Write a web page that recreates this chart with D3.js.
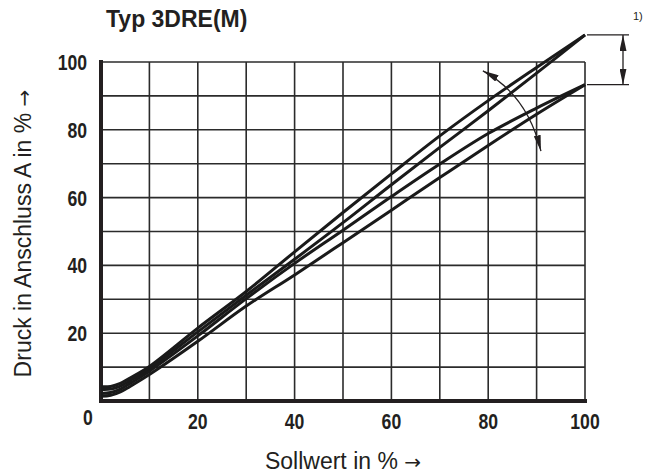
<!DOCTYPE html>
<html>
<head>
<meta charset="utf-8">
<script src="https://cdn.jsdelivr.net/npm/d3@7"></script>
<style>
  body { margin: 0; background: #fff; }
  text { font-family: "Liberation Sans", Arial, sans-serif; fill: #231f20; }
  .tick-label { font-weight: bold; font-size: 22px; }
  .arrow { font-family: "DejaVu Sans", sans-serif; }
</style>
</head>
<body>
<div id="chart"></div>
<script>
// Sollwert (x) in %, Druck in Anschluss A (y) in %
const sollwert = [0, 2, 4, 6, 10, 20, 30, 40, 50, 60, 70, 80, 90, 100];
// upper pair (ends at 108 %)
const druckA = [4.2, 4.3, 5.2, 6.8, 10.2, 21.5, 32.3, 44.0, 55.6, 67.0, 78.2, 88.6, 98.4, 108];
const druckB = [3.4, 3.5, 4.4, 6.0, 9.5, 20.4, 31.2, 41.8, 52.6, 63.8, 74.8, 85.6, 96.7, 108];
// lower pair (ends at 93 %)
const druckC = [2.2, 2.5, 3.5, 5.2, 8.8, 19.2, 30.2, 40.6, 50.4, 60.3, 69.9, 78.9, 86.4, 93.3];
const druckD = [1.4, 1.7, 2.7, 4.3, 7.8, 17.6, 28.0, 37.2, 46.7, 56.3, 65.9, 75.4, 84.6, 93.3];

const xTicks = [20, 40, 60, 80, 100];
const yTicks = [20, 40, 60, 80, 100];
const gridSteps = d3.range(0, 101, 10);

// annotations (data units)
const bracketLevels = [108, 93.3];   // 1) range at 100 % Sollwert
const curvedArrow = [[78.9, 97.4], [88.1, 90.3], [90.9, 73.7]]; // start, control, end

const width = 646, height = 474;
const margin = {top: 62, right: 61, bottom: 73, left: 101};

const x = d3.scaleLinear().domain([0, 100]).range([margin.left, width - margin.right]);
const y = d3.scaleLinear().domain([0, 100]).range([height - margin.bottom, margin.top]);

const svg = d3.select("#chart").append("svg")
  .attr("width", width)
  .attr("height", height);

const defs = svg.append("defs");
defs.append("marker")
  .attr("id", "head")
  .attr("viewBox", "0 0 16 7")
  .attr("refX", 16).attr("refY", 3.5)
  .attr("markerWidth", 16).attr("markerHeight", 7)
  .attr("markerUnits", "userSpaceOnUse")
  .attr("orient", "auto-start-reverse")
  .append("path")
  .attr("d", "M0,0L16,3.5L0,7Z")
  .attr("fill", "#231f20");

// grid
const grid = svg.append("g").attr("stroke", "#2b2b2b").attr("stroke-width", 1.6);
grid.selectAll(".v").data(gridSteps).join("line")
  .attr("x1", d => x(d)).attr("x2", d => x(d))
  .attr("y1", y(0)).attr("y2", y(100));
grid.selectAll(".h").data(gridSteps).join("line")
  .attr("y1", d => y(d)).attr("y2", d => y(d))
  .attr("x1", x(0)).attr("x2", x(100));

// heavy left and bottom axes
svg.append("path")
  .attr("d", `M${x(0)},${y(100)}V${y(0)}H${x(100)}`)
  .attr("fill", "none")
  .attr("stroke", "#231f20")
  .attr("stroke-width", 4)
  .attr("stroke-linecap", "square");

// curves
const line = d3.line()
  .x((d, i) => x(sollwert[i]))
  .y(d => y(d))
  .curve(d3.curveCatmullRom.alpha(0.5));

svg.append("g")
  .attr("fill", "none")
  .attr("stroke", "#1a1a1a")
  .attr("stroke-width", 3)
  .attr("stroke-linejoin", "round")
  .selectAll("path")
  .data([druckA, druckB, druckC, druckD])
  .join("path")
  .attr("d", line);

// tick labels, squeezed to look like a condensed face
const squeeze = 0.8;
svg.append("g").selectAll("text").data(yTicks).join("text")
  .attr("class", "tick-label")
  .attr("transform", d => `translate(${x(0) - 14},${y(d)}) scale(${squeeze},1)`)
  .attr("dy", "0.36em")
  .attr("text-anchor", "end")
  .text(d => d);

svg.append("g").selectAll("text").data(xTicks).join("text")
  .attr("class", "tick-label")
  .attr("transform", d => `translate(${x(d)},${y(0) + 28}) scale(${squeeze},1)`)
  .attr("text-anchor", "middle")
  .text(d => d);

svg.append("text")
  .attr("class", "tick-label")
  .attr("transform", `translate(${x(0) - 13},${y(0) + 24}) scale(${squeeze},1)`)
  .attr("text-anchor", "middle")
  .text("0");

// titles
svg.append("text")
  .attr("x", 106).attr("y", 27)
  .attr("font-weight", "bold")
  .attr("font-size", 23)
  .text("Typ 3DRE(M)");

const xTitle = svg.append("text")
  .attr("x", (x(0) + x(100)) / 2)
  .attr("y", 469)
  .attr("text-anchor", "middle")
  .attr("font-size", 23)
  .attr("fill", "#333");
xTitle.append("tspan").text("Sollwert in % ");
xTitle.append("tspan").attr("class", "arrow").attr("font-size", 20).text("→");

const yTitle = svg.append("text")
  .attr("transform", `translate(31,${(y(0) + y(100)) / 2 + 2}) rotate(-90)`)
  .attr("text-anchor", "middle")
  .attr("font-size", 23)
  .attr("fill", "#333");
yTitle.append("tspan").text("Druck in Anschluss A in % ");
yTitle.append("tspan").attr("class", "arrow").attr("font-size", 20).text("→");

// bracket for 1)
const bx = x(100) + 38;
const ann = svg.append("g").attr("stroke", "#231f20").attr("fill", "none");
ann.selectAll("line.lvl").data(bracketLevels).join("line")
  .attr("x1", x(100) + 2).attr("x2", x(100) + 44)
  .attr("y1", d => y(d)).attr("y2", d => y(d))
  .attr("stroke-width", 1.3);
ann.append("line")
  .attr("x1", bx).attr("x2", bx)
  .attr("y1", y(bracketLevels[0])).attr("y2", y(bracketLevels[1]))
  .attr("stroke-width", 1.3)
  .attr("marker-start", "url(#head)")
  .attr("marker-end", "url(#head)");

svg.append("text")
  .attr("x", 633).attr("y", 20)
  .attr("font-size", 11)
  .text("1)");

// curved double arrow
const [p0, pc, p1] = curvedArrow;
ann.append("path")
  .attr("d", `M${x(p0[0])},${y(p0[1])}Q${x(pc[0])},${y(pc[1])} ${x(p1[0])},${y(p1[1])}`)
  .attr("stroke-width", 1.3)
  .attr("marker-start", "url(#head)")
  .attr("marker-end", "url(#head)");
</script>
</body>
</html>
